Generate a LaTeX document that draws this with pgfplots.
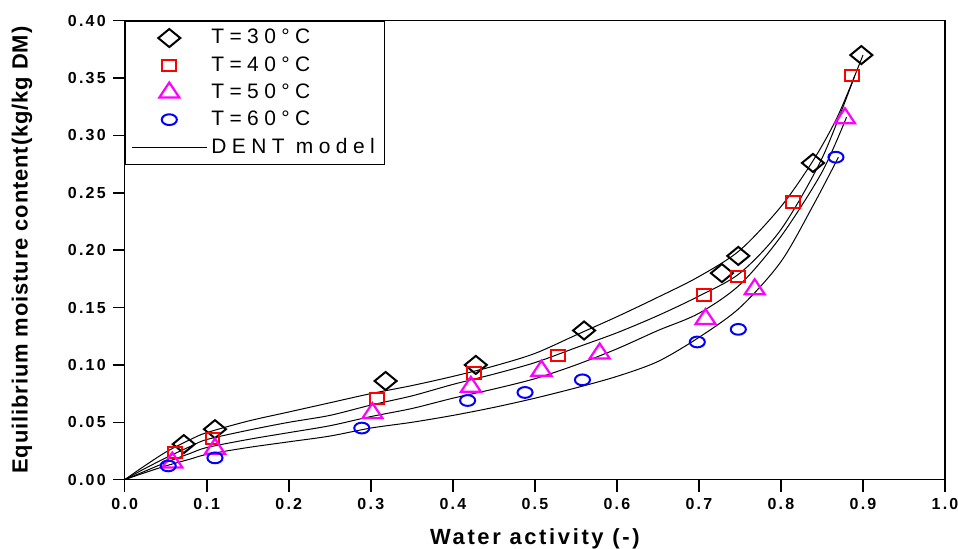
\documentclass[border=0pt]{standalone}
\usepackage{fontspec}
\setmainfont{Liberation Sans}
\newfontfamily\spaced[LetterSpace=26]{Liberation Sans}
\newfontfamily\tickfont[LetterSpace=14]{Liberation Sans}
\newfontfamily\labfont[LetterSpace=12]{Liberation Sans}
\newfontfamily\ylabfont[LetterSpace=4]{Liberation Sans}
\usepackage{pgfplots}
\pgfplotsset{compat=1.18}
\definecolor{mag}{RGB}{255,0,255}

% DENT model curves
\pgfplotstableread{
x y
0 0
0.02 0.010
0.05 0.024
0.08 0.035
0.10 0.041
0.15 0.051
0.20 0.059
0.25 0.067
0.30 0.075
0.35 0.082
0.40 0.090
0.45 0.099
0.50 0.110
0.55 0.126
0.60 0.142
0.65 0.159
0.70 0.177
0.75 0.200
0.80 0.238
0.84 0.279
0.87 0.318
0.90 0.370
}\curveA
\pgfplotstableread{
x y
0 0
0.02 0.008
0.05 0.019
0.08 0.029
0.10 0.035
0.15 0.043
0.20 0.050
0.25 0.056
0.30 0.065
0.35 0.073
0.40 0.083
0.45 0.092
0.50 0.102
0.55 0.115
0.60 0.128
0.65 0.143
0.70 0.160
0.75 0.180
0.80 0.218
0.85 0.280
0.89 0.352
}\curveB
\pgfplotstableread{
x y
0 0
0.02 0.006
0.05 0.015
0.08 0.023
0.10 0.028
0.15 0.035
0.20 0.041
0.25 0.047
0.30 0.055
0.35 0.062
0.40 0.071
0.45 0.079
0.50 0.088
0.55 0.100
0.60 0.114
0.65 0.130
0.70 0.145
0.75 0.170
0.80 0.212
0.85 0.268
0.88 0.316
}\curveC
\pgfplotstableread{
x y
0 0
0.02 0.005
0.05 0.012
0.08 0.018
0.10 0.022
0.15 0.028
0.20 0.033
0.25 0.038
0.30 0.045
0.35 0.050
0.40 0.056
0.45 0.063
0.50 0.071
0.55 0.080
0.60 0.090
0.65 0.103
0.70 0.124
0.75 0.150
0.80 0.190
0.84 0.240
0.87 0.281
}\curveD

\begin{document}
\begin{tikzpicture}
\begin{axis}[
  name=ax,
  scale only axis, width=411pt, height=230pt,
  xmin=0, xmax=1, ymin=0, ymax=0.4,
  xtick={0,0.1,0.2,0.3,0.4,0.5,0.6,0.7,0.8,0.9,1.0},
  ytick={0,0.05,0.1,0.15,0.2,0.25,0.3,0.35,0.4},
  tick pos=left, tick align=outside, major tick length=6pt,
  axis line style={line width=0.75pt},
  every tick/.style={black, line width=0.75pt},
  /pgf/number format/assume math mode=true,
  tick label style={font=\tickfont\bfseries\fontsize{8}{9}\selectfont},
  xticklabel style={/pgf/number format/.cd, fixed, fixed zerofill, precision=1},
  yticklabel style={/pgf/number format/.cd, fixed, fixed zerofill, precision=2},
  scaled y ticks=false, scaled x ticks=false,
  xlabel={Water activity (-)},
  ylabel={Equilibrium moisture content(kg/kg DM)},
  xlabel style={font=\labfont\bfseries\fontsize{11}{13}\selectfont,
    at={(axis description cs:0.5,0)}, anchor=center, yshift=-29.5pt},
  ylabel style={font=\ylabfont\bfseries\fontsize{11}{13}\selectfont,
    at={(axis description cs:-0.1253,0.5)}, anchor=center},
  legend style={at={(0,1)}, anchor=north west, draw=black, line width=0.6pt,
    font=\spaced\fontsize{10.5}{12}\selectfont, row sep=0.8pt,
    inner xsep=3pt, inner ysep=2pt},
  legend cell align=left,
  legend image code/.code={\draw[mark repeat=2,mark phase=2,#1] plot coordinates {(0cm,0cm) (0.66cm,0cm) (1.32cm,0cm)};},
]
\addplot[black, line width=0.5pt, smooth, no marks, forget plot] table {\curveA};
\addplot[black, line width=0.5pt, smooth, no marks, forget plot] table {\curveB};
\addplot[black, line width=0.5pt, smooth, no marks, forget plot] table {\curveC};
\addplot[black, line width=0.5pt, smooth, no marks, forget plot] table {\curveD};

\addplot[only marks, mark=square, mark size=3.9pt,
  mark options={black, fill=white, line width=1pt, yscale=0.82, rotate=45}] coordinates {
 (0.072,0.031) (0.11,0.044) (0.318,0.086) (0.428,0.100) (0.56,0.130)
 (0.728,0.180) (0.748,0.195) (0.839,0.276) (0.898,0.370)};
\addlegendentry{T=30°C}
\addplot[only marks, mark=square, mark size=3.5pt,
  mark options={red, fill=white, line width=1pt, yscale=0.8}] coordinates {
 (0.061,0.024) (0.107,0.036) (0.308,0.071) (0.426,0.093) (0.528,0.108)
 (0.706,0.161) (0.748,0.177) (0.815,0.242) (0.887,0.352)};
\addlegendentry{T=40°C}
\addplot[only marks, mark=triangle, mark size=5pt,
  mark options={mag, fill=white, line width=1.1pt, xscale=1.15}] coordinates {
 (0.058,0.015) (0.11,0.027) (0.302,0.058) (0.422,0.081) (0.508,0.095)
 (0.579,0.110) (0.708,0.140) (0.768,0.166) (0.878,0.315)};
\addlegendentry{T=50°C}
\addplot[only marks, mark=o, mark size=2.7pt,
  mark options={blue, fill=white, line width=1pt, xscale=1.4}] coordinates {
 (0.053,0.012) (0.11,0.019) (0.289,0.045) (0.418,0.069) (0.488,0.076)
 (0.558,0.087) (0.698,0.120) (0.748,0.131) (0.867,0.281)};
\addlegendentry{T=60°C}
\addlegendimage{black, line width=0.5pt, no marks}
\addlegendentry{DENT model\hspace{5pt}}
\end{axis}
\pgfresetboundingbox
\path[use as bounding box] ([xshift=-62.5pt, yshift=-34.5pt]ax.south west) rectangle ([xshift=6.5pt, yshift=10.35pt]ax.north east);
\end{tikzpicture}
\end{document}
